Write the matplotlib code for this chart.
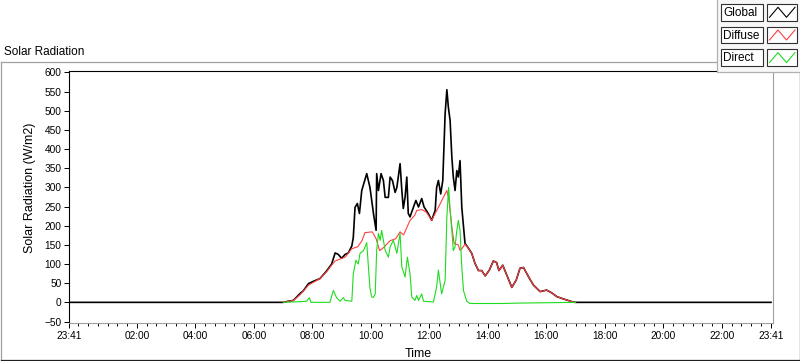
import matplotlib
matplotlib.use("Agg")
import matplotlib.pyplot as plt
from matplotlib.lines import Line2D
from matplotlib.patches import Rectangle

plt.rcParams['font.family'] = ['Liberation Sans', 'DejaVu Sans']

# hours of day (values before 0 belong to the previous evening)
global_t = [-0.317, 7.01, 7.18, 7.35, 7.58, 7.69, 7.87, 8.04, 8.26, 8.49, 8.66, 8.78, 8.89,
            9.00, 9.12, 9.23, 9.35, 9.40, 9.46, 9.54, 9.61, 9.69, 9.86, 9.97, 10.09, 10.18,
            10.20, 10.26, 10.35, 10.43, 10.49, 10.60, 10.66, 10.74, 10.83, 10.89, 11.00,
            11.06, 11.11, 11.17, 11.23, 11.28, 11.34, 11.46, 11.54, 11.63, 11.74, 11.82,
            11.97, 12.08, 12.20, 12.25, 12.31, 12.39, 12.46, 12.54, 12.60, 12.65, 12.71,
            12.77, 12.82, 12.88, 12.94, 12.99, 13.05, 13.11, 13.22, 13.34, 13.45, 13.56,
            13.68, 13.79, 13.91, 14.05, 14.19, 14.30, 14.38, 14.51, 14.65, 14.82, 14.97,
            15.10, 15.22, 15.39, 15.56, 15.79, 16.01, 16.18, 16.36, 16.58, 16.87, 16.98, 23.683]
global_v = [0, 0, 3, 5, 23, 30, 49, 55, 62, 82, 100, 129, 125,
            115, 125, 129, 147, 169, 248, 258, 232, 292, 336, 300, 232, 188,
            336, 292, 336, 318, 274, 274, 327, 318, 287, 300, 362,
            292, 245, 274, 327, 232, 223, 249, 266, 249, 271, 249,
            231, 214, 240, 300, 318, 283, 318, 492, 555, 510, 475,
            379, 327, 292, 344, 327, 370, 248, 154, 141, 128, 102,
            83, 83, 69, 84, 108, 104, 83, 97, 71, 39, 58,
            89, 91, 67, 45, 28, 32, 25, 15, 9, 2, 0, 0]

diffuse_t = [7.01, 7.35, 7.58, 7.87, 8.26, 8.49, 8.66, 8.78, 9.12, 9.35, 9.55, 9.69,
             9.80, 10.05, 10.18, 10.30, 10.45, 10.66, 10.85, 11.00, 11.12, 11.34, 11.50,
             11.57, 11.75, 11.90, 12.08, 12.20, 12.37, 12.48, 12.60, 12.66, 12.71, 12.77,
             12.85, 12.99, 13.05, 13.11, 13.22, 13.34, 13.45, 13.56, 13.68, 13.79, 13.91,
             14.05, 14.19, 14.30, 14.38, 14.51, 14.65, 14.82, 14.97, 15.10, 15.22, 15.39,
             15.56, 15.79, 16.01, 16.18, 16.36, 16.58, 16.87, 16.98]
diffuse_v = [0, 5, 20, 45, 62, 80, 97, 108, 118, 140, 145, 160,
             182, 184, 166, 135, 144, 161, 166, 184, 176, 214, 227,
             240, 242, 235, 214, 232, 257, 274, 292, 272, 240, 197,
             153, 150, 136, 140, 152, 141, 128, 102, 83, 83, 69,
             84, 108, 104, 83, 97, 71, 39, 58, 89, 91, 67,
             45, 28, 32, 25, 15, 9, 2, 0]

direct_t = [7.01, 7.64, 7.81, 7.90, 7.95, 8.60, 8.72, 8.83, 8.95, 9.06, 9.12, 9.35, 9.40,
            9.49, 9.57, 9.63, 9.75, 9.86, 9.92, 9.97, 10.03, 10.09, 10.15, 10.20, 10.26,
            10.32, 10.37, 10.49, 10.60, 10.66, 10.77, 10.89, 11.00, 11.06, 11.17, 11.25,
            11.34, 11.40, 11.51, 11.57, 11.63, 11.74, 11.80, 12.14, 12.25, 12.31, 12.42,
            12.54, 12.60, 12.66, 12.71, 12.77, 12.82, 12.88, 12.94, 12.99, 13.05, 13.11,
            13.17, 13.28, 13.39, 14.50, 15.00, 16.00, 17.00]
direct_v = [0, 2, 3, 12, 0, 0, 31, 12, 3, 12, 5, 3, 74,
            110, 100, 128, 135, 156, 90, 37, 14, 13, 22, 135, 180,
            162, 188, 136, 118, 145, 162, 128, 180, 92, 66, 118,
            75, 14, 5, 18, 5, 22, 3, 1, 40, 84, 22,
            57, 223, 300, 242, 188, 135, 145, 188, 214, 188, 92,
            30, 3, -3, -3, -2, -1, 0]

y_ticks = list(range(-50, 601, 50))
x_ticks = [-19 / 60, 2, 4, 6, 8, 10, 12, 14, 16, 18, 20, 22, 23 + 41 / 60]
x_labels = ['23:41', '02:00', '04:00', '06:00', '08:00', '10:00', '12:00', '14:00',
            '16:00', '18:00', '20:00', '22:00', '23:41']
series_names = ['Global', 'Diffuse', 'Direct']
series_colors = ['#000000', '#ff4040', '#1edc1e']

W, H = 800, 361


def fx(x):
    return x / W


def fy(y):
    return 1 - y / H


fig = plt.figure(figsize=(8, 3.61), dpi=100)
fig.patch.set_facecolor('white')

# plot area in pixels: x 69..771, y 70.5..322.5
ax = fig.add_axes([fx(68.5), fy(322.5), (772.5 - 68.5) / W, (322.5 - 70.5) / H])
ax.plot(global_t, global_v, color=series_colors[0], lw=1.2, zorder=2)
ax.plot(diffuse_t, diffuse_v, color=series_colors[1], lw=0.8, zorder=3)
ax.plot(direct_t, direct_v, color=series_colors[2], lw=0.8, zorder=4)

ax.set_ylim(-52.6, 605.2)
ax.set_xlim(-19 / 60 - 0.02, 23 + 41 / 60 + 0.05)
ax.set_yticks(y_ticks)
ax.set_xticks(x_ticks)
ax.set_xticklabels(x_labels)
ax.set_xticks([-1 / 3 + i / 3 for i in range(73)], minor=True)
ax.tick_params(axis='both', which='major', direction='out', length=3.6, width=0.7,
               labelsize=7.3, pad=1.5, color='black')
ax.tick_params(axis='x', which='major', pad=2.5)
ax.tick_params(axis='x', which='minor', direction='out', length=2.3, width=0.7)
ax.spines['left'].set_color('black')
ax.spines['top'].set_color('black')
ax.spines['right'].set_color('#a0a0a0')
ax.spines['bottom'].set_color('#a0a0a0')
for s in ax.spines.values():
    s.set_linewidth(0.8)

fig.text(fx(30), fy(188), 'Solar Radiation (W/m2)', rotation=90, fontsize=9,
         ha='center', va='center')
fig.text(fx(418), fy(357), 'Time', fontsize=9, ha='center', va='baseline')
fig.text(fx(4), fy(55), 'Solar Radiation', fontsize=8.5, ha='left', va='baseline')

# outer frame
frame = [((0.5, 62), (717, 62), '#a0a0a0'), ((0.5, 62), (0.5, 360), '#a0a0a0'),
         ((0.5, 360), (799.5, 360), '#202020'), ((799.5, 72), (799.5, 360), '#202020')]
for p0, p1, c in frame:
    fig.add_artist(Line2D([fx(p0[0]), fx(p1[0])], [fy(p0[1]), fy(p1[1])], color=c, lw=0.9))

# legend panel
fig.add_artist(Rectangle((fx(717), fy(72)), (800 - 717) / W, 72 / H, transform=fig.transFigure,
                         facecolor='#f7f7f7', edgecolor='none', zorder=5))
fig.add_artist(Line2D([fx(717), fx(717), fx(800)], [fy(0), fy(72), fy(72)],
                      color='#b0b0b0', lw=0.9, zorder=6))
box_tops = [4, 26.7, 49.3]
for name, color, top in zip(series_names, series_colors, box_tops):
    h = 16.7
    fig.add_artist(Rectangle((fx(720.7), fy(top + h)), 42.6 / W, h / H, transform=fig.transFigure,
                             facecolor='white', edgecolor='#303030', lw=0.8, zorder=6))
    fig.add_artist(Rectangle((fx(767.3), fy(top + h)), 29.4 / W, h / H, transform=fig.transFigure,
                             facecolor='white', edgecolor='#303030', lw=0.8, zorder=6))
    zx = [769.5, 778, 786.5, 795]
    zy = [top + 13.3, top + 3.3, top + 13.3, top + 3.3]
    fig.add_artist(Line2D([fx(v) for v in zx], [fy(v) for v in zy], color=color, lw=0.8, zorder=7))
    fig.text(fx(723), fy(top + h / 2 + 0.5), name, fontsize=8.5, ha='left', va='center', zorder=8)

fig.savefig('out.png', dpi=100)
